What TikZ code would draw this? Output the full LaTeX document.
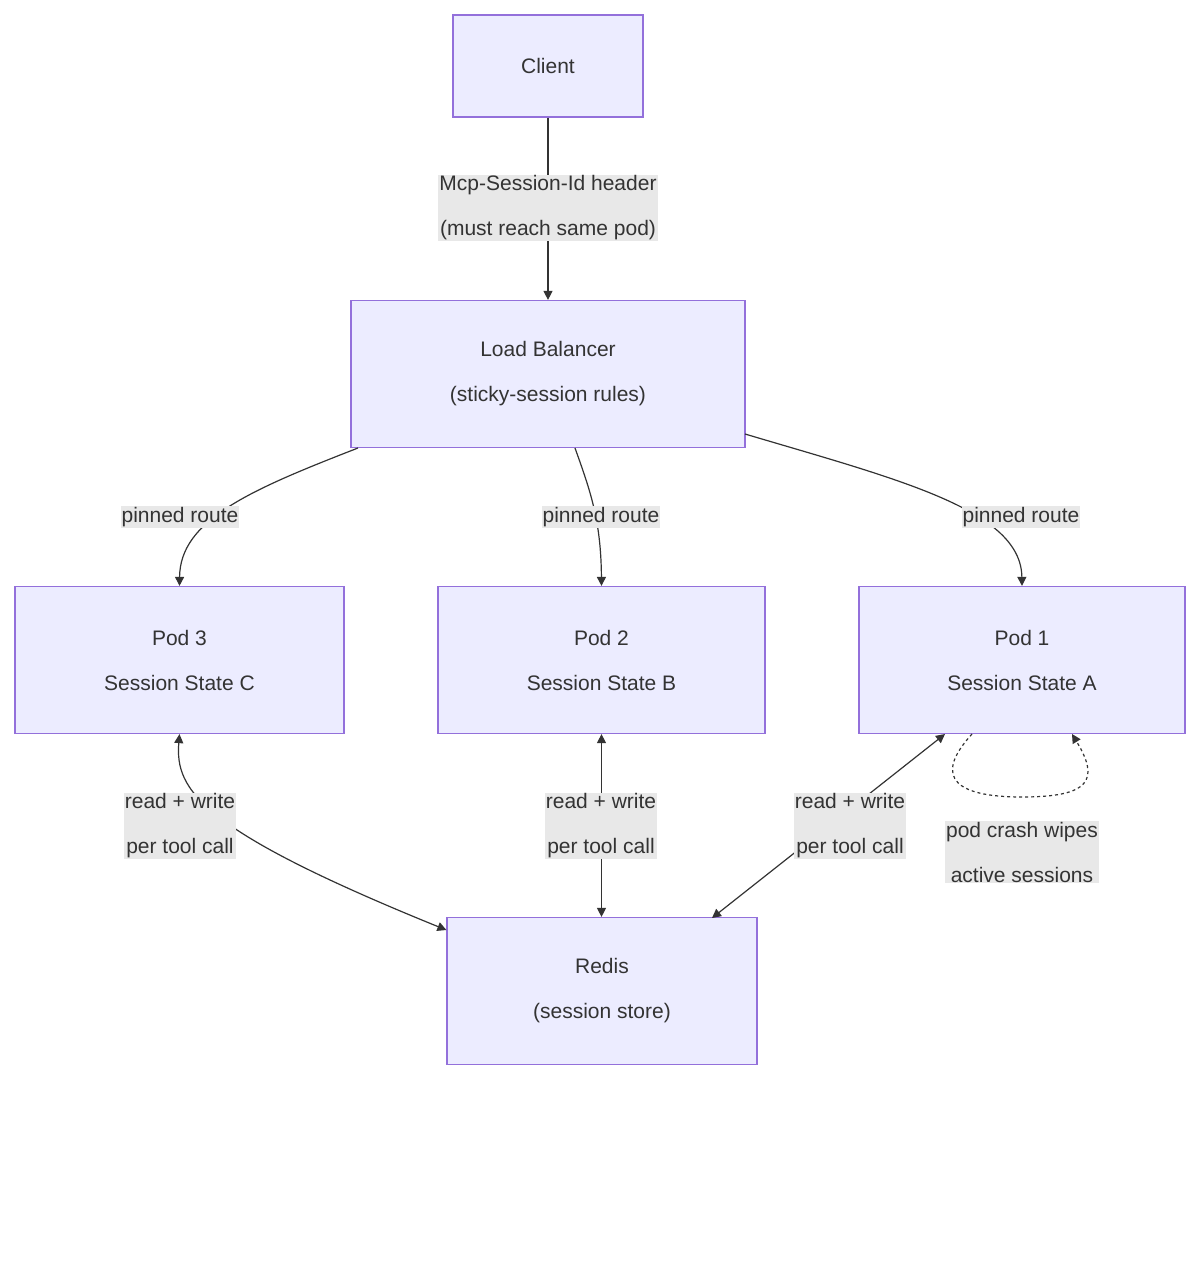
\documentclass[tikz,border=0pt]{standalone}
\usepackage{fontspec}
\setmainfont{Liberation Sans}
\usetikzlibrary{arrows.meta}
\definecolor{nfill}{HTML}{ECECFF}
\definecolor{nline}{HTML}{9370DB}
\definecolor{txt}{HTML}{333333}
\definecolor{lbg}{HTML}{E8E8E8}
\begin{document}
\begin{tikzpicture}[x=1pt,y=-1pt,
  box/.style={draw=nline,fill=nfill,line width=1.2pt,text=txt,align=center,font=\fontsize{21}{45}\selectfont},
  lbl/.style={fill=lbg,text=txt,align=center,font=\fontsize{21}{45}\selectfont,inner sep=1pt},
  edge/.style={draw=txt,line width=1.2pt,-{Triangle[length=9pt,width=9pt]}},
  bi/.style={edge,{Triangle[length=9pt,width=9pt]}-{Triangle[length=9pt,width=9pt]}}]
\useasboundingbox (0,0) rectangle (1200,1264);
\node[box,minimum width=190pt,minimum height=102pt] (client) at (548,66) {Client};
\node[box,minimum width=394pt,minimum height=147pt] (lb) at (548,374) {Load Balancer\\(sticky-session rules)};
\node[box,minimum width=329pt,minimum height=147pt] (p3) at (179.5,660) {Pod 3\\Session State C};
\node[box,minimum width=327pt,minimum height=147pt] (p2) at (601.5,660) {Pod 2\\Session State B};
\node[box,minimum width=326pt,minimum height=147pt] (p1) at (1022,660) {Pod 1\\Session State A};
\node[box,minimum width=310pt,minimum height=147pt] (redis) at (602,991) {Redis\\(session store)};
\draw[edge] (client) -- (lb);
\draw[edge] (358,448) .. controls (250,490) and (180,520) .. (p3.north);
\draw[edge] (575,448) .. controls (590,490) and (601,520) .. (p2.north);
\draw[edge] (745,434) .. controls (900,480) and (1021,510) .. (p1.north);
\draw[bi] (p3.south) .. controls (175,790) and (200,830) .. (redis.west |- 0,930);
\draw[bi] (p2.south) -- (redis.north -| p2.south);
\draw[bi] (945,734) -- (712,918);
\draw[edge,dashed,dash pattern=on 3pt off 3pt] (972,734) .. controls (930,780) and (960,797) .. (1022,797) .. controls (1090,797) and (1100,780) .. (1072,734);
\node[lbl] (l0) at (548,208) {Mcp-Session-Id header\\(must reach same pod)};
\node[lbl] (l1) at (180,517) {pinned route};
\node[lbl] (l2) at (601,517) {pinned route};
\node[lbl] (l3) at (1021,517) {pinned route};
\node[lbl] (l4) at (180,826) {read + write\\per tool call};
\node[lbl] (l5) at (601,826) {read + write\\per tool call};
\begin{scope}
\clip (760,770) rectangle (913,880);
\node[lbl] (l6) at (850,826) {read + write\\per tool call};
\end{scope}
\node[lbl] (l7) at (1022,852) {pod crash wipes\\active sessions};
\end{tikzpicture}
\end{document}
